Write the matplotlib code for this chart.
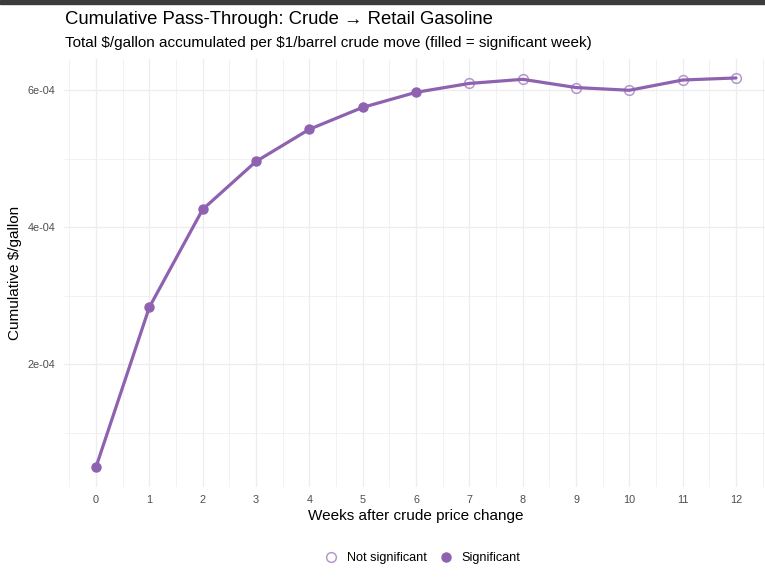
import matplotlib
matplotlib.use("Agg")
import matplotlib.pyplot as plt
from matplotlib.lines import Line2D
import numpy as np

plt.rcParams['font.family'] = ['Liberation Sans', 'DejaVu Sans']

# cumulative pass-through by week
weeks = [0, 1, 2, 3, 4, 5, 6, 7, 8, 9, 10, 11, 12]
cum_passthrough = [4.96e-5, 2.83e-4, 4.26e-4, 4.96e-4, 5.43e-4, 5.75e-4, 5.97e-4,
                   6.10e-4, 6.16e-4, 6.04e-4, 6.00e-4, 6.15e-4, 6.18e-4]
significant = [True] * 7 + [False] * 6
y_ticks = [2e-4, 4e-4, 6e-4]
y_tick_labels = ['2e-04', '4e-04', '6e-04']

purple = '#8e62b0'
grid_col = '#ededed'

fig = plt.figure(figsize=(7.65, 5.84), dpi=100)
ax = fig.add_axes([64 / 765, 97.5 / 584, 704 / 765, 428 / 584])

x = np.array(weeks)
y = np.array(cum_passthrough)
sig = np.array(significant)

# gridlines like theme_minimal
for v in np.arange(-0.5, 13, 0.5):
    ax.axvline(v, color=grid_col, lw=0.5 if v % 1 else 0.9, zorder=0)
for v in [1e-4, 3e-4, 5e-4]:
    ax.axhline(v, color=grid_col, lw=0.5, zorder=0)
for v in y_ticks:
    ax.axhline(v, color=grid_col, lw=0.9, zorder=0)

ax.plot(x, y, color=purple, lw=2.3, zorder=3, solid_capstyle='round')
ax.plot(x[sig], y[sig], 'o', color=purple, ms=6.5, zorder=4)
ax.plot(x[~sig], y[~sig], 'o', mfc='none', mec=purple, mew=1.1, ms=7,
        alpha=0.65, zorder=4)

ax.set_xlim(-0.6, 12.6)
ymin, ymax = y.min(), y.max()
pad = (ymax - ymin) * 0.05
ax.set_ylim(ymin - pad, ymax + pad)

ax.set_xticks(weeks)
ax.set_xticklabels([str(w) for w in weeks])
ax.set_yticks(y_ticks)
ax.set_yticklabels(y_tick_labels)
ax.tick_params(length=0, labelsize=7.8, labelcolor='#4d4d4d', pad=6)
for s in ax.spines.values():
    s.set_visible(False)

ax.set_xlabel('Weeks after crude price change', fontsize=11, labelpad=3)
ax.set_ylabel('Cumulative \\$/gallon', fontsize=11, labelpad=4)

fig.text(65 / 765, 1 - 19 / 584, 'Cumulative Pass-Through: Crude \u2192 Retail Gasoline',
         fontsize=13.3, va='center', ha='left')
fig.text(65 / 765, 1 - 43 / 584,
         'Total \\$/gallon accumulated per \\$1/barrel crude move (filled = significant week)',
         fontsize=11, va='center', ha='left')

handles = [Line2D([], [], marker='o', ls='none', mfc='none', mec=purple, mew=1.1,
                  ms=7, alpha=0.65),
           Line2D([], [], marker='o', ls='none', color=purple, ms=6.5)]
fig.legend(handles, ['Not significant', 'Significant'], loc='center',
           bbox_to_anchor=(421 / 765, 1 - 558 / 584), ncol=2, frameon=False,
           fontsize=9.1, handletextpad=0.5, columnspacing=0.8, handlelength=1.5)

# dark strip at the top of the capture
fig.patches.append(plt.Rectangle((0, 1 - 4 / 584), 1, 4 / 584, transform=fig.transFigure,
                                 color='#3c3c3c', zorder=10))

fig.savefig('out.png', dpi=100)
